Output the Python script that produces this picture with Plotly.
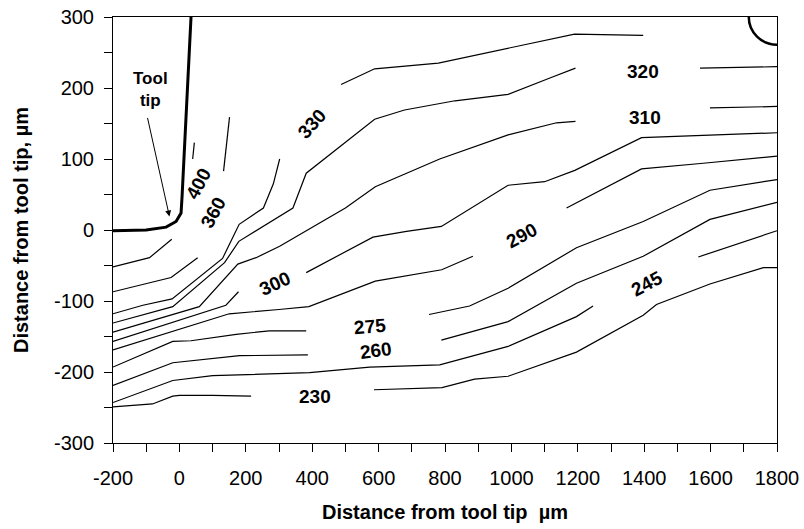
import plotly.graph_objects as go

# ---- data ----
tool_x = [-200, -100, -40, -10, 5, 8, 35]
tool_y = [-1, 0, 4, 12, 24, 47, 300]

c400_x = [-200, -90, -23, None, 40, 45]
c400_y = [-52, -39, -13, None, 100, 123]

c360_x = [-200, -25, 55, None, 133, 151]
c360_y = [-87, -67, -39, None, 83, 159]

c330_x = [-200, -110, -22, 130, 180, 253, 283, 302, None, 487, 588, 780, 985, 1190, 1397]
c330_y = [-118, -106, -97, -40, 8, 31, 65, 100, None, 205, 227, 235, 256, 276, 274]

c320_x = [-200, -20, 136, 179, 342, 382, 588, 678, 830, 990, 1116, 1193, None, 1568, 1800]
c320_y = [-131, -108, -46, -16, 31, 80, 156, 169, 182, 191, 214, 228, None, 228, 230]

c310_x = [-200, -20, 60, 176, 231, 302, 500, 590, 784, 990, 1136, 1193, None, 1598, 1800]
c310_y = [-144, -119, -108, -48, -39, -23, 31, 61, 100, 134, 151, 153, None, 172, 174]

c300_x = [-200, 140, 178, None, 382, 482, 583, 684, 789, 990, 1100, 1191, 1392, 1800]
c300_y = [-157, -106, -87, None, -60, -35, -10, -2, 5, 63, 68, 84, 130, 137]

c290_x = [-200, 150, 300, 390, 590, 790, 884, None, 1166, 1392, 1578, 1800]
c290_y = [-169, -118, -112, -108, -72, -56, -37, None, 31, 86, 94, 104]

c275_x = [-200, -20, 35, 171, 271, 382, None, 752, 874, 990, 1196, 1397, 1598, 1800]
c275_y = [-193, -157, -156, -147, -142, -142, None, -119, -107, -82, -25, 12, 56, 71]

c260_x = [-200, -20, 181, 387, None, 789, 990, 1196, 1397, 1598, 1800]
c260_y = [-219, -187, -177, -176, None, -155, -129, -75, -37, 15, 39]

c245_x = [-200, -20, 100, 392, 573, 784, 990, 1196, 1246, None, 1563, 1800]
c245_y = [-243, -212, -205, -201, -193, -190, -164, -122, -107, None, -38, -1]

c230_x = [-200, -81, -20, 0, 100, 216, None, 586, 791, 889, 990, 1196, 1397, 1437, 1598, 1759, 1800]
c230_y = [-249, -245, -234, -233, -233, -234, None, -225, -222, -210, -206, -172, -120, -105, -76, -53, -53]

label_text = ["400", "360", "330", "320", "310", "300", "290", "275", "260", "245", "230"]
label_x = [57, 103, 400, 1395, 1403, 288, 1032, 574, 592, 1409, 407]
label_y = [66, 24, 150, 223, 158, -75, -8, -136, -170, -76, -234]
label_angle = [-62, -62, -48, 0, 0, -25, -28, -5, -7, -28, 0]

x_tickvals = [-200, 0, 200, 400, 600, 800, 1000, 1200, 1400, 1600, 1800]
x_ticktext = ["-200", "0", "200", "400", "600", "800", "1000", "1200", "1400", "1600", "1800"]
y_tickvals = [-300, -200, -100, 0, 100, 200, 300]
y_ticktext = ["-300", "-200", "-100", "0", "100", "200", "300"]

contours = [
    (c400_x, c400_y), (c360_x, c360_y), (c330_x, c330_y), (c320_x, c320_y),
    (c310_x, c310_y), (c300_x, c300_y), (c290_x, c290_y), (c275_x, c275_y),
    (c260_x, c260_y), (c245_x, c245_y), (c230_x, c230_y),
]

FONT = "Liberation Sans, Arial, sans-serif"

fig = go.Figure()
for cx, cy in contours:
    fig.add_trace(go.Scatter(x=cx, y=cy, mode="lines", connectgaps=False,
                             line=dict(color="black", width=1.2),
                             hoverinfo="skip", showlegend=False))

fig.add_trace(go.Scatter(x=tool_x, y=tool_y, mode="lines",
                         line=dict(color="black", width=3),
                         hoverinfo="skip", showlegend=False))

# quarter-circle feature at top-right corner
fig.add_shape(type="circle", xref="x", yref="y", x0=1715, x1=1885, y0=261, y1=339,
              line=dict(color="black", width=2.5))

for t, x, y, a in zip(label_text, label_x, label_y, label_angle):
    fig.add_annotation(x=x, y=y, text="<b>%s</b>" % t, showarrow=False, textangle=a,
                       font=dict(family=FONT, size=19, color="black"))

fig.add_annotation(x=-87, y=198, text="<b>Tool<br>tip</b>", showarrow=False,
                   font=dict(family=FONT, size=17, color="black"))
fig.add_annotation(x=-30, y=19, ax=-97, ay=160, axref="x", ayref="y", text="",
                   showarrow=True, arrowhead=2, arrowsize=1.2, arrowwidth=1, arrowcolor="black")

axis_common = dict(showline=True, linecolor="black", linewidth=1, mirror=True,
                   ticks="outside", ticklen=8, tickcolor="black", tickwidth=1,
                   showgrid=False, zeroline=False, automargin=False,
                   tickfont=dict(family=FONT, size=20, color="black"))

fig.update_xaxes(range=[-200, 1800], tickmode="array", tickvals=x_tickvals, ticktext=x_ticktext,
                 ticklabelstandoff=9,
                 minor=dict(dtick=100, ticks="outside", ticklen=8, tickcolor="black"),
                 title=dict(text="<b>Distance from tool tip\u00a0 µm</b>", standoff=16,
                            font=dict(family=FONT, size=20, color="black")),
                 **axis_common)
fig.update_yaxes(range=[-300, 300], tickmode="array", tickvals=y_tickvals, ticktext=y_ticktext,
                 ticklabelstandoff=6,
                 minor=dict(dtick=50, ticks="outside", ticklen=8, tickcolor="black"),
                 title=dict(text="<b>Distance from tool tip, µm</b>", standoff=19,
                            font=dict(family=FONT, size=20, color="black")),
                 **axis_common)

fig.update_layout(width=804, height=529, margin=dict(l=113, r=27, t=17, b=86),
                  plot_bgcolor="white", paper_bgcolor="white",
                  font=dict(family=FONT, color="black"))

fig.write_html("out.html")
